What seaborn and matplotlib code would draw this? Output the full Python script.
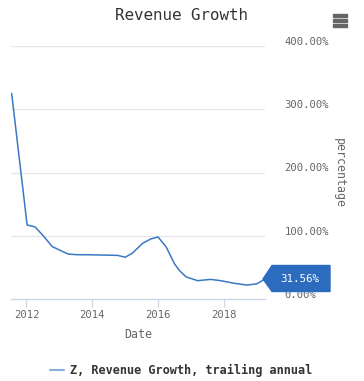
import numpy as np
import pandas as pd
import matplotlib
matplotlib.use("Agg")
import matplotlib.pyplot as plt
import matplotlib.transforms as mtransforms
from matplotlib.patches import Polygon, Rectangle
import seaborn as sns

# ---- data ----
dates = [2011.55, 2012.02, 2012.26, 2012.51, 2012.78, 2013.02, 2013.27, 2013.55,
         2013.82, 2014.3, 2014.77, 2015.0, 2015.22, 2015.53, 2015.78, 2016.0,
         2016.25, 2016.5, 2016.65, 2016.85, 2017.2, 2017.6, 2017.9, 2018.3,
         2018.7, 2019.0, 2019.25]
values = [325, 117, 114, 100, 83, 77, 71, 70,
          70, 69.5, 69, 66, 72.5, 88, 95, 98,
          82, 55.5, 45, 35, 29, 31, 29, 25,
          22, 24, 31.56]
ytick_vals = [0, 100, 200, 300, 400]
ytick_labels = ["0.00%", "100.00%", "200.00%", "300.00%", "400.00%"]
xtick_vals = [2012, 2014, 2016, 2018]
xtick_labels = ["2012", "2014", "2016", "2018"]
series_name = "Z, Revenue Growth, trailing annual"
last_label = "31.56%"

df = pd.DataFrame({"Date": dates, "value": values, "series": series_name})

sns.set_theme(style="white")
plt.rcParams["font.family"] = ["DejaVu Sans Mono"]

line_color = "#3a78c4"
box_color = "#2b6cbf"
text_color = "#666666"

fig = plt.figure(figsize=(3.64, 3.81), dpi=100)
W, H = 364, 381
ax = fig.add_axes([11 / W, 1 - 299 / H, (265 - 11) / W, (299 - 46) / H])

sns.lineplot(data=df, x="Date", y="value", hue="series", palette=[line_color],
             ax=ax, linewidth=1.1, legend=False)

ax.set_xlim(2011.53, 2019.25)
ax.set_ylim(0, 400)
ax.yaxis.tick_right()
ax.yaxis.set_label_position("right")
ax.set_yticks(ytick_vals)
ax.set_yticklabels(ytick_labels, fontsize=7.6, color=text_color)
ax.tick_params(axis="y", length=0, pad=14)
offset = mtransforms.ScaledTranslation(0, 5 / 100, fig.dpi_scale_trans)
for lab in ax.get_yticklabels():
    lab.set_transform(lab.get_transform() + offset)
ax.grid(axis="y", color="#e6e6e6", linewidth=0.9)
ax.set_xticks(xtick_vals)
ax.set_xticklabels(xtick_labels, fontsize=7.6, color=text_color)
ax.tick_params(axis="x", length=6, width=0.9, color="#ccd6eb", pad=2, bottom=True)
for s in ["top", "left", "right"]:
    ax.spines[s].set_visible(False)
ax.spines["bottom"].set_color("#ccd6eb")
ax.spines["bottom"].set_linewidth(0.9)

ax.set_xlabel("Date", fontsize=8.4, color=text_color, labelpad=6)
ax.set_ylabel("percentage", fontsize=8.4, color=text_color, rotation=270,
              va="center")
ax.yaxis.set_label_coords((339 - 11) / 254, 0.5)

# title
fig.text(181.5 / W, 1 - 15 / H, "Revenue Growth", ha="center", va="center",
         fontsize=11.4, color="#333333")

# hamburger icon
for yy in (15.5, 20.5, 25.5):
    fig.patches.append(Rectangle((333 / W, 1 - (yy + 1.3) / H), 14 / W, 2.6 / H,
                                 transform=fig.transFigure, color="#666666"))

# last value flag
tip_x, tip_y = 263, 279
poly = [(tip_x, tip_y), (272, 265.5), (330, 265.5), (330, 291.5), (272, 291.5)]
fig.patches.append(Polygon([(x / W, 1 - y / H) for x, y in poly], closed=True,
                           transform=fig.transFigure, facecolor=box_color,
                           edgecolor=box_color, zorder=5))
fig.text(300 / W, 1 - 279 / H, last_label, ha="center", va="center",
         fontsize=7.8, color="white", zorder=6)

# legend
fig.lines.append(plt.Line2D([50 / W, 64 / W], [1 - 370 / H, 1 - 370 / H],
                            transform=fig.transFigure, color=line_color,
                            linewidth=1.5, alpha=0.6))
fig.text(70 / W, 1 - 370 / H, series_name, ha="left", va="center",
         fontsize=8.6, fontweight="bold", color="#333333")

fig.savefig("out.png", dpi=100, facecolor="white")
